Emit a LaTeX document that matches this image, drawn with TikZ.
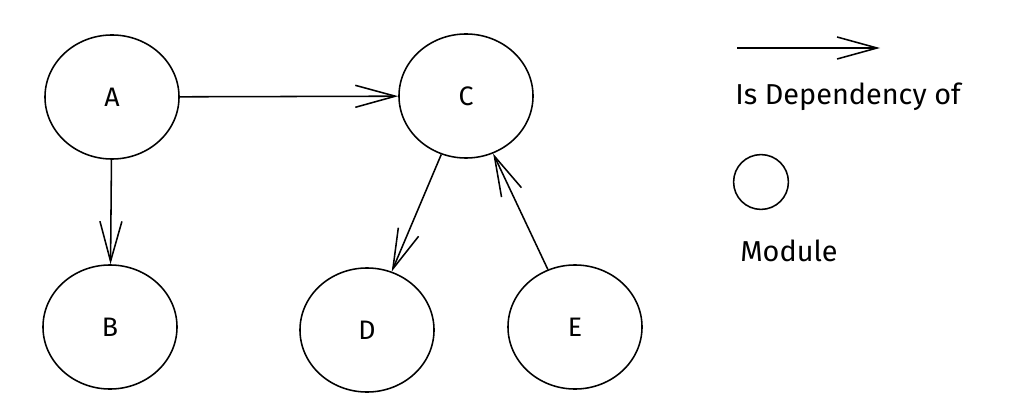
\documentclass[tikz,border=0pt]{standalone}
\usepackage{fontspec}
\setmainfont{Fira Sans}
\usetikzlibrary{arrows.meta,shapes.geometric}
\begin{document}
\begin{tikzpicture}[x=0.025cm, y=-0.025cm,
	module/.style={draw, ellipse, line width=1.1pt, minimum width=3.35cm, minimum height=3.1cm, inner sep=0pt, font=\fontsize{19}{22}\selectfont},
	dep/.style={-{Straight Barb[length=1cm, width=0.55cm, line width=1.1pt]}, line width=1.1pt},
	label/.style={anchor=west, inner sep=0pt, font=\fontsize{20.5}{24}\selectfont}]
	\useasboundingbox (0,0) rectangle (1024,413);

	\node[module] (A) at (112,97) {A};
	\node[module] (C) at (466,96) {C};
	\node[module] (B) at (110,327) {B};
	\node[module] (D) at (367,330) {D};
	\node[module] (E) at (575,327) {E};

	\draw[dep] (A) -- (C);
	\draw[dep] (A) -- (B);
	\draw[dep] (C) -- (D);
	\draw[dep] (E) -- (C);

	% legend
	\coordinate (l1) at (737,48);
	\coordinate (l2) at (880,48);
	\draw[dep] (l1) -- (l2);
	\node[label] (deptext) at (735,97) {Is Dependency of};
	\node[draw, circle, line width=1.1pt, minimum size=1.37cm, inner sep=0pt] (mod) at (761,182) {};
	\node[label] (modtext) at (740,251) {Module};
\end{tikzpicture}
\end{document}
